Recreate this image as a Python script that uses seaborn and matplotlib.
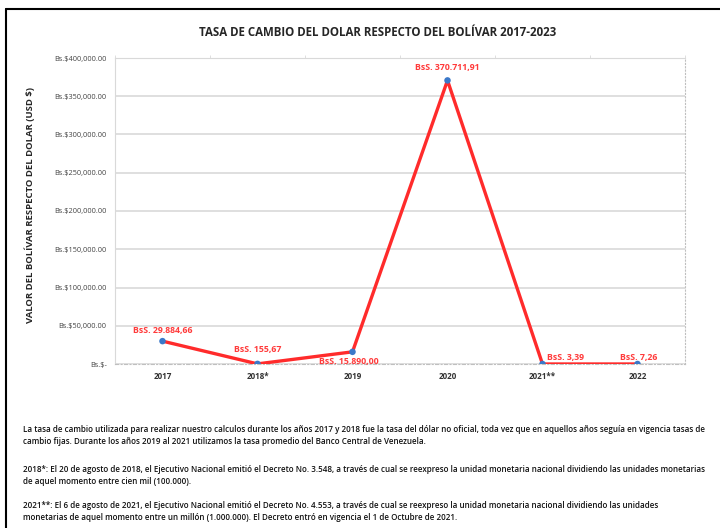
import numpy as np
import pandas as pd
import matplotlib.pyplot as plt
import seaborn as sns
from matplotlib.ticker import FuncFormatter, MultipleLocator

# data
years = ['2017', '2018*', '2019', '2020', '2021**', '2022']
rates = [29884.66, 155.67, 15890.00, 370711.91, 3.39, 7.26]
point_labels = ['BsS. 29.884,66', 'BsS. 155,67', 'BsS. 15.890,00',
                'BsS. 370.711,91', 'BsS. 3,39', 'BsS. 7,26']
y_ticks = [0, 50000, 100000, 150000, 200000, 250000, 300000, 350000, 400000]

note_lines = [
    "La tasa de cambio utilizada para realizar nuestro calculos durante los años 2017 y 2018 fue la tasa del dólar no oficial, toda vez que en aquellos años seguía en vigencia tasas de",
    "cambio fijas. Durante los años 2019 al 2021 utilizamos la tasa promedio del Banco Central de Venezuela.",
    "2018*: El 20 de agosto de 2018, el Ejecutivo Nacional emitió el Decreto No. 3.548, a través de cual se reexpreso la unidad monetaria nacional dividiendo las unidades monetarias",
    "de aquel momento entre cien mil (100.000).",
    "2021**: El 6 de agosto de 2021, el Ejecutivo Nacional emitió el Decreto No. 4.553, a través de cual se reexpreso la unidad monetaria nacional dividiendo las unidades",
    "monetarias de aquel momento entre un millón (1.000.000). El Decreto entró en vigencia el 1 de Octubre de 2021.",
]

df = pd.DataFrame({'year': years, 'rate': rates})

sns.set_style('white')
plt.rcParams['font.family'] = ['Open Sans', 'DejaVu Sans']

fig = plt.figure(figsize=(7.2, 5.28), dpi=100)
ax = fig.add_axes([115 / 720, 1 - 364 / 528, 570 / 720, 306 / 528])

x = np.arange(len(years))
sns.lineplot(x=x, y=df['rate'], ax=ax, color='#ff2b2b', linewidth=2.4, sort=False, zorder=3)
sns.scatterplot(x=x, y=df['rate'], ax=ax, color='#3a78c9', s=22, edgecolor='none', zorder=4)

ax.set_xlim(-0.5, len(years) - 0.5)
ax.set_ylim(0, 400000)
ax.set_xlabel('')
ax.set_ylabel('')
ax.set_xticks(x)
ax.set_xticklabels(years, fontsize=5.8, fontweight='bold', color='#333333')
ax.set_yticks(y_ticks)

def fmt(v, pos):
    if v == 0:
        return 'Bs.$-'
    return f'Bs.${v:,.2f}'

ax.yaxis.set_major_formatter(FuncFormatter(fmt))
for lab in ax.get_yticklabels():
    lab.set_fontsize(5.3)
    lab.set_color('#444444')
ax.tick_params(axis='both', length=0, pad=6)

# small marks on the top edge, as in the original
ax.xaxis.set_minor_locator(MultipleLocator(0.5))
ax.tick_params(axis='x', which='minor', top=True, bottom=False, length=2.5,
               color='#d9d9d9', direction='out')

ax.grid(axis='y', color='#d9d9d9', linewidth=1.2)
ax.set_axisbelow(True)
ax.spines['left'].set_color('#d9d9d9')
ax.spines['top'].set_color('#d9d9d9')
ax.spines['right'].set_color('#bfbfbf')
ax.spines['right'].set_linestyle((0, (1, 2)))
ax.spines['bottom'].set_color('#bfbfbf')
ax.spines['bottom'].set_linestyle((0, (3, 2, 1, 2)))

# point labels
offsets = [(0, 8, 'center'), (0, 10, 'center'), (-3, -7, 'center'),
           (0, 9, 'center'), (3, 5, 'left'), (1, 5, 'center')]
for xi, val, txt, (dx, dy, ha) in zip(x, rates, point_labels, offsets):
    ax.annotate(txt, (xi, val), xytext=(dx, dy), textcoords='offset points',
                ha=ha, va='center', fontsize=6.3, fontweight='bold', color='#ff3b3b')

ax.set_title('TASA DE CAMBIO DEL DOLAR RESPECTO DEL BOLÍVAR 2017-2023',
             fontsize=8.3, fontweight='bold', pad=16, x=0.46)
fig.text(30 / 720, 1 - 205 / 528, 'VALOR DEL BOLÍVAR RESPECTO DEL DOLAR (USD $)',
         rotation=90, ha='center', va='center', fontsize=6.8, fontweight='bold')

# frame lines of the original image
fig.add_artist(plt.Line2D([6 / 720, 1], [1 - 9 / 528, 1 - 9 / 528], color='black', lw=1.5))
fig.add_artist(plt.Line2D([6 / 720, 6 / 720], [0, 1 - 9 / 528], color='black', lw=1.5))

note_y = [430, 442, 469, 482, 506, 518]
for ny, line in zip(note_y, note_lines):
    fig.text(23 / 720, 1 - ny / 528, line, ha='left', va='center', fontsize=5.75,
             fontweight='semibold', color='#111111')

fig.savefig('out.png', dpi=100)
